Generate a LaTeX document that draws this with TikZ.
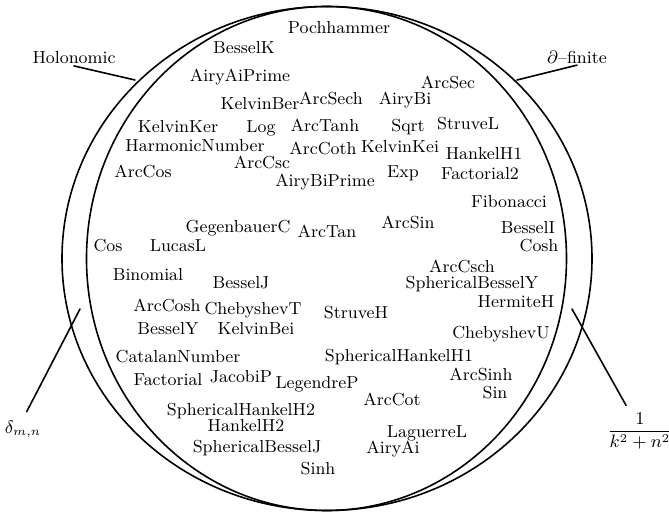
\documentclass[tikz,border=0pt]{standalone}

\begin{document}
\begin{tikzpicture}[line width=0.8pt, line cap=round, line join=round, x=0.5pt, y=-0.5pt,
  fn/.style={inner sep=0.5pt, font=\fontsize{8.7}{10}\selectfont}]
  \useasboundingbox (0,0) rectangle (669,512);
  % The two rings.
  \draw (327,258.5) ellipse [x radius=265, y radius=252];
  \draw (326.5,258.5) ellipse [x radius=240, y radius=252];
  % Function names inside.
  \foreach \fn/\px/\py in {
      Pochhammer/339/28, BesselK/244/48, AiryAiPrime/240/77, KelvinBer/260/104,
      ArcSech/331/98, AiryBi/405/100, ArcSec/448/82, KelvinKer/178/127,
      Log/261/128, ArcTanh/325/125, Sqrt/408/127, StruveL/468/124,
      HarmonicNumber/195/146, ArcCsc/262/162, ArcCoth/323/148, KelvinKei/400/147,
      HankelH1/484/154, ArcCos/143/171, AiryBiPrime/325/182, Exp/403/173,
      Factorial2/480/174, Fibonacci/509/202, GegenbauerC/238/228, ArcTan/327/231,
      ArcSin/408/222, BesselI/528/228, Cosh/539/246, Cos/108/246,
      LucasL/178/246, Binomial/148/275, BesselJ/241/283, ArcCsch/462/266,
      SphericalBesselY/472/284, HermiteH/516/302, ArcCosh/167/305, ChebyshevT/253/310,
      StruveH/356/313, BesselY/168/329, KelvinBei/256/329, ChebyshevU/501/334,
      CatalanNumber/178/357, SphericalHankelH1/399/357, ArcSinh/481/374, Factorial/168/380,
      JacobiP/241/377, LegendreP/317/384, Sin/495/393, ArcCot/392/399,
      SphericalHankelH2/241/411, HankelH2/246/426, LaguerreL/427/433,
      SphericalBesselJ/257/448, AiryAi/393/449, Sinh/318/469} {
    \node[fn] (\fn) at (\px,\py) {\fn};
  }
  % Class labels and their pointers.
  \node[fn] (holonomic) at (74,58) {Holonomic};
  \node[fn] (dfinite) at (577,57) {$\partial$--finite};
  \node[fn] (delta) at (23,429) {$\delta_{m,n}$};
  \node[fn] (frac) at (640,431) {$\displaystyle\frac{1}{k^2+n^2}$};
  \coordinate (holonomicRing) at (135,80);
  \coordinate (dfiniteRing) at (517,80);
  \coordinate (deltaRing) at (80,309);
  \coordinate (fracRing) at (572,309);
  \draw (holonomic.south) -- (holonomicRing);
  \draw (dfinite.south) -- (dfiniteRing);
  \draw[shorten <=4pt] (delta.north) -- (deltaRing);
  \draw[shorten <=3pt] ([xshift=-5.5pt]frac.north) -- (fracRing);
\end{tikzpicture}
\end{document}
